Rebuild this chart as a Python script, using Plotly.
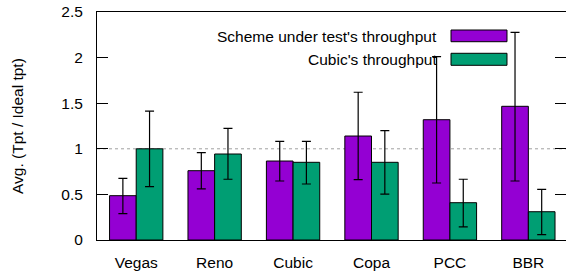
import plotly.graph_objects as go

categories = ["Vegas", "Reno", "Cubic", "Copa", "PCC", "BBR"]
series_names = ["Scheme under test's throughput", "Cubic's throughput"]

scheme_mean = [0.486, 0.76, 0.866, 1.14, 1.319, 1.466]
scheme_hi = [0.676, 0.957, 1.082, 1.62, 2.01, 2.277]
scheme_lo = [0.29, 0.56, 0.647, 0.661, 0.625, 0.647]

cubic_mean = [1.0, 0.943, 0.852, 0.852, 0.409, 0.31]
cubic_hi = [1.414, 1.225, 1.082, 1.20, 0.666, 0.556]
cubic_lo = [0.585, 0.666, 0.614, 0.504, 0.143, 0.058]

y_ticks = [0, 0.5, 1, 1.5, 2, 2.5]
y_tick_text = ["0", "0.5", "1", "1.5", "2", "2.5"]
ref_line = 1.0

colors = ["#9400D3", "#009E73"]
FONT = "Liberation Sans, Arial, Helvetica, sans-serif"
FS = 15.5

x = list(range(len(categories)))

fig = go.Figure()
for name, mean, hi, lo, col in [
    (series_names[0], scheme_mean, scheme_hi, scheme_lo, colors[0]),
    (series_names[1], cubic_mean, cubic_hi, cubic_lo, colors[1]),
]:
    fig.add_trace(go.Bar(
        x=x, y=mean, name=name,
        marker=dict(color=col, line=dict(color="black", width=1)),
        error_y=dict(type="data", symmetric=False,
                     array=[h - m for h, m in zip(hi, mean)],
                     arrayminus=[m - l for m, l in zip(mean, lo)],
                     color="black", thickness=1.2, width=4.5),
        showlegend=False,
    ))

# reference line at ideal throughput
fig.add_shape(type="line", xref="paper", x0=0, x1=1, yref="y", y0=ref_line, y1=ref_line,
              line=dict(color="#A0A0A0", width=1, dash="dot"), layer="below")

# custom legend (text left of swatch, gnuplot style)
sw_x0, sw_x1 = 0.7548, 0.8742
legend_rows = [(0.921, 0.8697, 0.8947), (0.8189, 0.7662, 0.7917)]
for (ytop, ybot, ytxt), name, col in zip(legend_rows, series_names, colors):
    fig.add_shape(type="rect", xref="paper", yref="paper", x0=sw_x0, x1=sw_x1, y0=ybot, y1=ytop,
                  fillcolor=col, line=dict(color="black", width=1), layer="above")
    fig.add_annotation(xref="paper", yref="paper", x=0.729, y=ytxt, text=name, showarrow=False,
                       xanchor="right", yanchor="middle", font=dict(family=FONT, size=FS, color="black"))

fig.add_annotation(xref="paper", yref="paper", x=-0.1706, y=0.5, text="Avg. (Tpt / Ideal tpt)",
                   textangle=-90, showarrow=False, xanchor="center", yanchor="middle",
                   font=dict(family=FONT, size=FS, color="black"))

fig.update_layout(
    width=566, height=273,
    margin=dict(l=97, r=0, t=12, b=33),
    paper_bgcolor="white", plot_bgcolor="white",
    barmode="group", bargap=0.32, bargroupgap=0,
    font=dict(family=FONT, size=FS, color="black"),
)
fig.update_xaxes(range=[-0.5, 5.48], tickvals=x, ticktext=categories, showgrid=False, zeroline=False,
                 showline=True, mirror=True, linecolor="black", linewidth=1, ticks="",
                 ticklabelstandoff=8)
fig.update_yaxes(range=[0, 2.5], tickvals=y_ticks, ticktext=y_tick_text, showgrid=False, zeroline=False,
                 showline=True, mirror="ticks", linecolor="black", linewidth=1, ticks="inside",
                 ticklen=11, tickcolor="black", ticklabelstandoff=10)

fig.write_html("out.html", config={"displayModeBar": False},
               post_script="document.body.style.margin='0';document.body.style.overflow='hidden';")
